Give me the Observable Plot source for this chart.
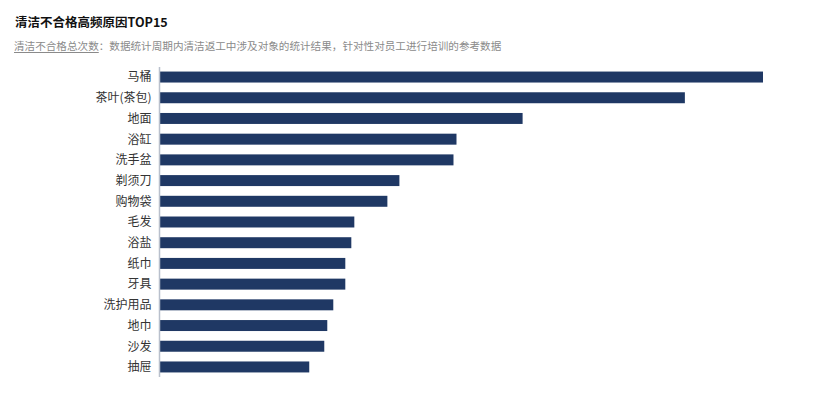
<!DOCTYPE html>
<html>
<head>
<meta charset="utf-8">
<script src="https://cdn.jsdelivr.net/npm/d3@7"></script>
<script src="https://cdn.jsdelivr.net/npm/@observablehq/plot@0.6"></script>
<style>
  html, body { margin: 0; padding: 0; background: #fff; }
  body { width: 819px; height: 395px; overflow: hidden; font-family: "Noto Sans CJK SC", "Noto Sans", sans-serif; position: relative; }
  #title { position: absolute; left: 15px; top: 13px; font-size: 12.5px; font-weight: bold; color: #111; line-height: 18px; white-space: nowrap; }
  #subtitle { position: absolute; left: 14px; top: 38px; font-size: 10.6px; color: #8a8a8a; line-height: 16px; white-space: nowrap; }
  #subtitle u { text-decoration-color: #8a8a8a; text-underline-offset: 2px; }
  #chart { position: absolute; left: 0; top: 60px; }
</style>
</head>
<body>
<div id="title">清洁不合格高频原因TOP15</div>
<div id="subtitle"><u>清洁不合格总次数</u>：数据统计周期内清洁返工中涉及对象的统计结果，针对性对员工进行培训的参考数据</div>
<div id="chart"></div>
<script>
const categories = ["马桶", "茶叶(茶包)", "地面", "浴缸", "洗手盆", "剃须刀", "购物袋", "毛发", "浴盐", "纸巾", "牙具", "洗护用品", "地巾", "沙发", "抽屉"];
const counts = [201, 175, 121, 99, 98, 80, 76, 65, 64, 62, 62, 58, 56, 55, 50];

const data = categories.map((c, i) => ({category: c, count: counts[i]}));

const chart = Plot.plot({
  width: 819,
  height: 335,
  marginLeft: 159,
  marginRight: 56,
  marginTop: 7,
  marginBottom: 18,
  style: {fontFamily: "'Noto Sans CJK SC', sans-serif", fontSize: "12px", color: "#333", background: "transparent"},
  x: {domain: [0, d3.max(counts)], axis: null},
  y: {domain: categories, paddingInner: 0.47, paddingOuter: 0.22, round: false, label: null, tickSize: 0, tickPadding: 8},
  marks: [
    Plot.barX(data, {x: "count", y: "category", fill: "#1f3864", insetLeft: 1}),
    Plot.ruleX([0], {stroke: "#b9c0cc", strokeWidth: 1.5}),
    Plot.axisY({tickSize: 0, tickPadding: 8, label: null, fill: "#333", fontSize: 12})
  ]
});
document.getElementById("chart").appendChild(chart);
</script>
</body>
</html>
